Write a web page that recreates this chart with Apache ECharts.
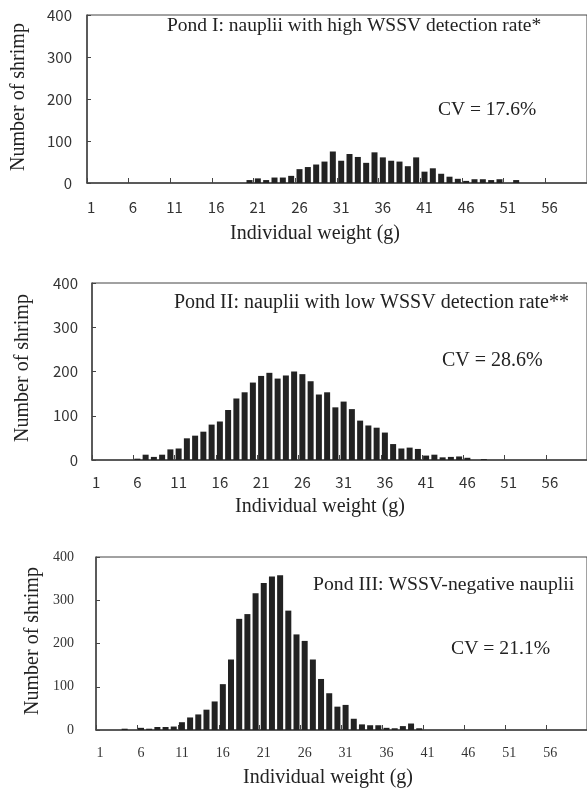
<!DOCTYPE html>
<html>
<head>
<meta charset="utf-8">
<script src="https://cdn.jsdelivr.net/npm/echarts@6/dist/echarts.min.js"></script>
<style>
  html, body { margin: 0; padding: 0; background: #fff; }
  #chart { width: 587px; height: 788px; }
</style>
</head>
<body>
<div id="chart"></div>
<script>
// individual weight classes 1..60 g
var weights = [];
for (var i = 1; i <= 60; i++) weights.push(String(i));

// number of shrimp per weight class
var pond1 = [0,0,0,0,0,0,0,0,0,0, 0,0,0,0,0,0,0,0,0,7,
             11,7,13,13,17,33,38,44,51,75, 53,69,62,48,73,61,53,51,40,61,
             27,35,22,15,10,5,9,9,7,9, 0,7,0,0,0,0,0,0,0,0];
var pond2 = [0,0,0,0,0,3,12,7,12,24, 26,49,55,64,80,87,113,139,153,175,
             190,197,184,191,200,194,178,148,153,119, 132,115,89,78,73,62,36,26,28,25,
             10,12,6,7,8,5,0,2,0,0, 0,0,0,0,0,0,0,0,0,0];
var pond3 = [0,0,0,3,0,5,3,7,7,8, 18,29,36,47,66,106,163,257,268,316,
             340,355,358,276,221,206,163,118,85,54, 58,26,13,11,11,5,4,9,15,4,
             0,0,0,0,0,0,0,0,0,0, 0,0,0,0,0,0,0,0,0,0];

var yTicks = [0, 100, 200, 300, 400];

var panels = [
  { data: pond1, left: 87, top: 15, height: 168, title: "Pond I: nauplii with high WSSV detection rate*", cv: "CV = 17.6%",
    tx: 167, ty: 26, cvx: 438, cvy: 110, tsize: 19.5, yx: 19, yy: 97, xx: 315, xy: 234,
    tickFont: "Noto Sans CJK JP", tickSize: 15, yMargin: 15, xMargin: 17 },
  { data: pond2, left: 92, top: 283, height: 177, title: "Pond II: nauplii with low WSSV detection rate**", cv: "CV = 28.6%",
    tx: 174, ty: 303, cvx: 442, cvy: 361, tsize: 20, yx: 23, yy: 368, xx: 320, xy: 507,
    tickFont: "Noto Sans CJK JP", tickSize: 15, yMargin: 14, xMargin: 15 },
  { data: pond3, left: 96, top: 557, height: 173, title: "Pond III: WSSV-negative nauplii", cv: "CV = 21.1%",
    tx: 313, ty: 585, cvx: 451, cvy: 649, tsize: 19.7, yx: 33, yy: 641, xx: 328, xy: 778,
    tickFont: "Liberation Serif", tickSize: 14, yMargin: 22, xMargin: 16 }
];

var serif = "'Liberation Serif', 'Times New Roman', serif";
var grids = [], xAxes = [], yAxes = [], series = [], graphics = [];

panels.forEach(function (p, k) {
  grids.push({ left: p.left, top: p.top, width: 510, height: p.height, show: true,
    borderColor: "#444", borderWidth: 1, backgroundColor: "transparent" });
  xAxes.push({
    type: "category", gridIndex: k, data: weights,
    axisLine: { lineStyle: { color: "#444", width: 1.5 } },
    axisTick: { show: true, inside: true, length: 5, interval: 4, lineStyle: { color: "#444" } },
    axisLabel: { interval: 4, margin: p.xMargin, color: "#333", fontFamily: p.tickFont, fontSize: p.tickSize }
  });
  yAxes.push({
    type: "value", gridIndex: k, min: yTicks[0], max: yTicks[yTicks.length - 1], interval: 100,
    splitLine: { show: false },
    axisLine: { show: true, lineStyle: { color: "#444", width: 1.5 } },
    axisTick: { show: true, inside: true, length: 4, lineStyle: { color: "#444" } },
    axisLabel: { margin: p.yMargin, color: "#333", fontFamily: p.tickFont, fontSize: p.tickSize }
  });
  series.push({
    type: "bar", xAxisIndex: k, yAxisIndex: k, data: p.data,
    barWidth: 6, itemStyle: { color: "#222" }, animation: false
  });
  graphics.push(
    { type: "text", x: p.tx, y: p.ty, style: { text: p.title, font: p.tsize + "px " + serif, fill: "#222",
      textAlign: "left", textVerticalAlign: "middle", align: "left", verticalAlign: "middle" } },
    { type: "text", x: p.cvx, y: p.cvy, style: { text: p.cv, font: p.tsize + "px " + serif, fill: "#222",
      textAlign: "left", textVerticalAlign: "middle", align: "left", verticalAlign: "middle" } },
    { type: "text", x: p.yx, y: p.yy, rotation: Math.PI / 2, style: { text: "Number of shrimp", font: "20px " + serif, fill: "#222",
      textAlign: "center", textVerticalAlign: "middle", align: "center", verticalAlign: "middle" } },
    { type: "text", x: p.xx, y: p.xy, style: { text: "Individual weight (g)", font: "20px " + serif, fill: "#222",
      textAlign: "center", textVerticalAlign: "middle", align: "center", verticalAlign: "middle" } }
  );
});

var myChart = echarts.init(document.getElementById("chart"));
myChart.setOption({
  animation: false,
  grid: grids,
  xAxis: xAxes,
  yAxis: yAxes,
  series: series,
  graphic: graphics
});
</script>
</body>
</html>
